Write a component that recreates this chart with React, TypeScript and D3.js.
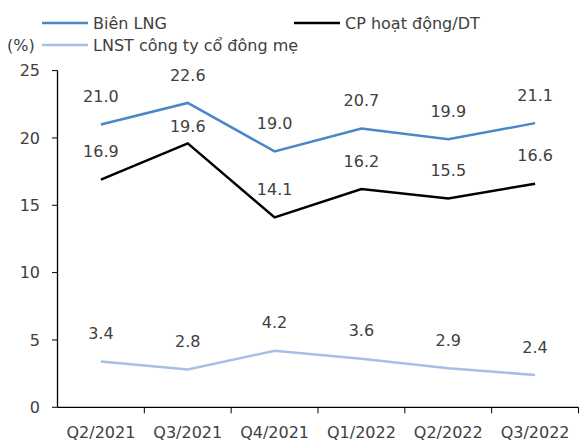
import React from 'react';
import * as d3 from 'd3';

// Quarterly ratios (%)
const quarters = ['Q2/2021', 'Q3/2021', 'Q4/2021', 'Q1/2022', 'Q2/2022', 'Q3/2022'];
const bienLNG = [21.0, 22.6, 19.0, 20.7, 19.9, 21.1];
const cpHoatDong = [16.9, 19.6, 14.1, 16.2, 15.5, 16.6];
const lnstMe = [3.4, 2.8, 4.2, 3.6, 2.9, 2.4];
const yTicks = [0, 5, 10, 15, 20, 25];

const W = 579;
const H = 441;
const FONT = '"DejaVu Sans", Verdana, sans-serif';
const TEXT = '#404040';

const series = [
  { name: 'Biên LNG', values: bienLNG, color: '#4A86C8' },
  { name: 'CP hoạt động/DT', values: cpHoatDong, color: '#000000' },
  { name: 'LNST công ty cổ đông mẹ', values: lnstMe, color: '#A7BFE6' },
];

export default function App() {
  const x = d3.scaleBand<string>().domain(quarters).range([57.5, 578.5]).padding(0);
  const y = d3.scaleLinear().domain([0, 25]).range([407.3, 70.6]);
  const line = d3.line<number>()
    .x((_, i) => (x(quarters[i]) || 0) + x.bandwidth() / 2)
    .y(d => y(d));

  // one label in the reference was nudged down so it doesn't collide with the line above
  const labelShift = (si: number, i: number) => (si === 1 && i === 1 ? 11 : 0);

  return (
    <svg width={W} height={H} style={{ position: 'absolute', left: 0, top: 0, background: '#fff' }} fontFamily={FONT}>
      {/* legend */}
      <g fontSize={16} fill={TEXT}>
        <line x1={42} x2={88} y1={23} y2={23} stroke={series[0].color} strokeWidth={2.5} />
        <text x={93} y={29}>{series[0].name}</text>
        <line x1={294} x2={340} y1={23} y2={23} stroke={series[1].color} strokeWidth={2.5} />
        <text x={345} y={29}>{series[1].name}</text>
        <text x={7} y={51}>(%)</text>
        <line x1={42} x2={88} y1={45} y2={45} stroke={series[2].color} strokeWidth={2.5} />
        <text x={93} y={51}>{series[2].name}</text>
      </g>

      {/* y axis */}
      <line x1={57.5} x2={57.5} y1={y(25)} y2={y(0)} stroke="#000" strokeWidth={1.3} />
      {yTicks.map(t => (
        <g key={t}>
          <line x1={52} x2={57.5} y1={y(t)} y2={y(t)} stroke="#000" />
          <text x={40} y={y(t)} dy="0.35em" textAnchor="end" fontSize={16} fill={TEXT}>{t}</text>
        </g>
      ))}

      {/* x axis */}
      <line x1={57.5} x2={578.5} y1={y(0)} y2={y(0)} stroke="#000" strokeWidth={1.3} />
      {quarters.map(q => (
        <g key={q}>
          <line x1={(x(q) || 0) + x.bandwidth()} x2={(x(q) || 0) + x.bandwidth()} y1={y(0)} y2={y(0) + 6} stroke="#000" />
          <text x={(x(q) || 0) + x.bandwidth() / 2} y={438} textAnchor="middle" fontSize={16} fill={TEXT}>{q}</text>
        </g>
      ))}

      {/* series */}
      {series.map((s, si) => (
        <g key={s.name}>
          <path d={line(s.values) || ''} fill="none" stroke={s.color} strokeWidth={2.5} />
          {s.values.map((v, i) => (
            <text
              key={i}
              x={(x(quarters[i]) || 0) + x.bandwidth() / 2}
              y={y(v) - 28 + labelShift(si, i)}
              dy="0.35em"
              textAnchor="middle"
              fontSize={16}
              fill={TEXT}
            >
              {v.toFixed(1)}
            </text>
          ))}
        </g>
      ))}
    </svg>
  );
}
